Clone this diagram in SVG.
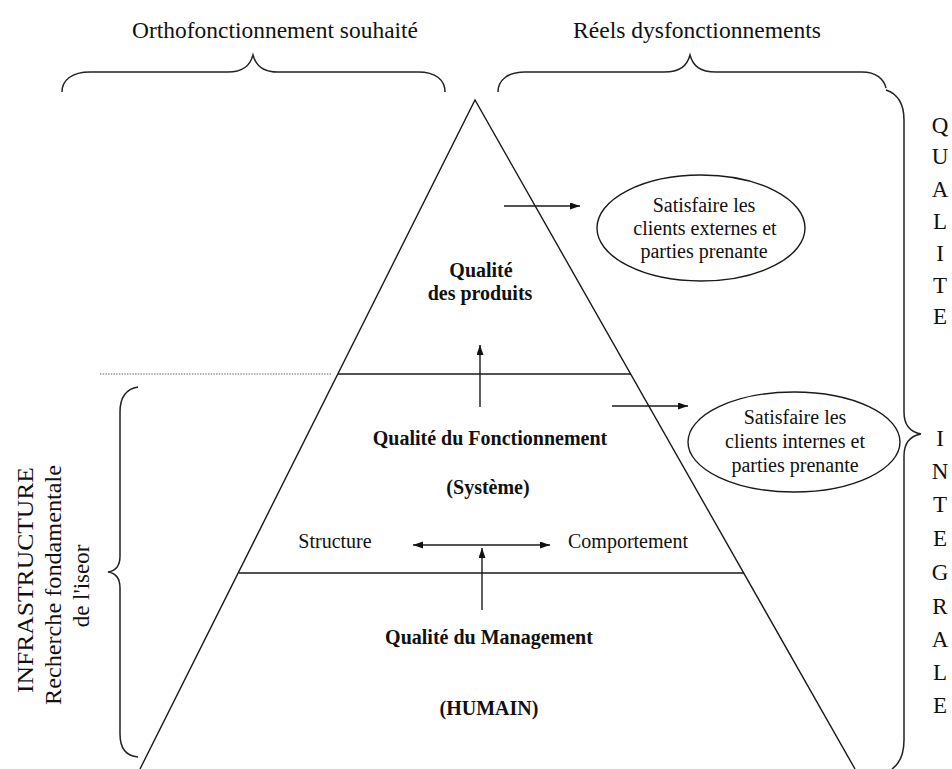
<svg xmlns="http://www.w3.org/2000/svg" width="952" height="769" viewBox="0 0 952 769">
<defs>
<marker id="ah" markerUnits="userSpaceOnUse" markerWidth="11" markerHeight="8" refX="10" refY="3.5" orient="auto-start-reverse">
<path d="M0,0 L10,3.5 L0,7 z" fill="#111"/>
</marker>
<style>
.t{font-family:"Liberation Serif","Times New Roman",serif;fill:#111;font-size:20px}
.b{font-weight:bold}
.c{text-anchor:middle}
.big{font-size:23px}
.col{font-size:23px;text-anchor:middle}
.ln{stroke:#1a1a1a;stroke-width:1.4;fill:none}
.br{stroke:#222;stroke-width:1.5;fill:none}
</style>
</defs>
<rect width="952" height="769" fill="#fff"/>

<g id="top-labels">
<text class="t big" x="132" y="38" textLength="286" lengthAdjust="spacingAndGlyphs">Orthofonctionnement souhaité</text>
<text class="t big" x="573" y="38" textLength="248" lengthAdjust="spacingAndGlyphs">Réels dysfonctionnements</text>
</g>

<g id="braces">
<path class="br" d="M62,92 C62,80 72,72 90,72 L228,72 C243,72 250,66 253,55 C256,66 263,72 278,72 L418,72 C436,72 445,80 445,92"/>
<path class="br" d="M498,92 C498,80 508,72 525,72 L664,72 C680,72 687,66 690,55 C693,66 700,72 716,72 L862,72 C876,72 884,79 886,88"/>
<path class="br" d="M886,90 C898,94 904,104 904,120 L904,412 C904,425 910,432 921,434 C910,436 904,443 904,456 L904,740 C904,755 899,764 892,769"/>
<path class="br" d="M138,387 C126,389 120,398 120,412 L120,556 C120,566 115,571 108,572 C115,573 120,578 120,588 L120,734 C120,748 126,756 138,757"/>
</g>

<g id="pyramid">
<path class="ln" d="M140,769 L475,100 L855,769"/>
<line class="ln" x1="338" y1="374" x2="631" y2="374"/>
<line class="ln" x1="239" y1="573" x2="744" y2="573"/>
<line x1="100" y1="374" x2="331" y2="374" stroke="#9a9a9a" stroke-width="1.6" stroke-dasharray="1.5 1.2"/>
</g>

<g id="qualite-produits">
<text class="t b c" x="481" y="277">Qualité</text>
<text class="t b c" x="480" y="300">des produits</text>
</g>

<g id="qualite-fonctionnement">
<text class="t b c" x="490" y="445">Qualité du Fonctionnement</text>
<text class="t b c" x="488" y="494">(Système)</text>
<text class="t c" x="335" y="548">Structure</text>
<text class="t c" x="628" y="548">Comportement</text>
</g>

<g id="qualite-management">
<text class="t b c" x="489" y="644">Qualité du Management</text>
<text class="t b c" x="489" y="715">(HUMAIN)</text>
</g>

<g id="ellipse-externes">
<ellipse cx="701" cy="228" rx="104" ry="53" class="ln"/>
<text class="t c" x="704" y="212">Satisfaire les</text>
<text class="t c" x="705" y="235">clients externes et</text>
<text class="t c" x="704" y="258">parties prenante</text>
</g>

<g id="ellipse-internes">
<ellipse cx="794" cy="442" rx="106" ry="50" class="ln"/>
<text class="t c" x="795" y="424">Satisfaire les</text>
<text class="t c" x="795" y="448">clients internes et</text>
<text class="t c" x="795" y="472">parties prenante</text>
</g>

<g id="infrastructure">
<text class="t col" transform="translate(33,580) rotate(-90)" textLength="226" lengthAdjust="spacingAndGlyphs">INFRASTRUCTURE</text>
<text class="t col" transform="translate(61,585) rotate(-90)" textLength="240" lengthAdjust="spacingAndGlyphs">Recherche fondamentale</text>
<text class="t col" transform="translate(89,586) rotate(-90)">de l'iseor</text>
</g>

<g id="qualite-integrale">
<text class="t col" x="940" y="133">Q</text>
<text class="t col" x="940" y="164">U</text>
<text class="t col" x="940" y="197">A</text>
<text class="t col" x="940" y="229">L</text>
<text class="t col" x="940" y="261">I</text>
<text class="t col" x="940" y="293">T</text>
<text class="t col" x="940" y="324">E</text>
<text class="t col" x="940" y="446">I</text>
<text class="t col" x="940" y="479">N</text>
<text class="t col" x="940" y="512">T</text>
<text class="t col" x="940" y="546">E</text>
<text class="t col" x="940" y="580">G</text>
<text class="t col" x="940" y="614">R</text>
<text class="t col" x="940" y="647">A</text>
<text class="t col" x="940" y="680">L</text>
<text class="t col" x="940" y="713">E</text>
</g>

<g id="connectors">
<line class="ln" x1="504" y1="206" x2="580" y2="206" marker-end="url(#ah)"/>
<line class="ln" x1="480" y1="407" x2="480" y2="345" marker-end="url(#ah)"/>
<line class="ln" x1="612" y1="406" x2="688" y2="406" marker-end="url(#ah)"/>
<line class="ln" x1="413" y1="545" x2="550" y2="545" marker-start="url(#ah)" marker-end="url(#ah)"/>
<line class="ln" x1="482" y1="610" x2="482" y2="548" marker-end="url(#ah)"/>
</g>
</svg>
